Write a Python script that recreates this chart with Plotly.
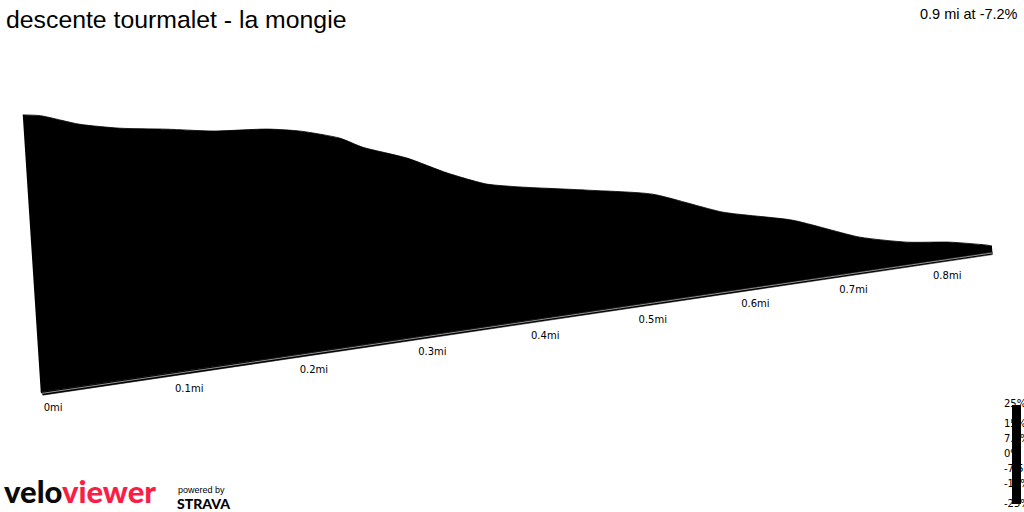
import numpy as np
import plotly.graph_objects as go

# ---------------- data ----------------
title_text = "descente tourmalet - la mongie"
summary_text = "0.9 mi at -7.2%"

distance_mi = [0.0, 0.013, 0.042, 0.072, 0.108, 0.145, 0.188, 0.215, 0.247, 0.266,
               0.303, 0.337, 0.371, 0.401, 0.462, 0.523, 0.590, 0.659, 0.727, 0.777,
               0.823, 0.864, 0.869]
elevation_m = [1903.4, 1902.5, 1897.9, 1895.0, 1892.9, 1890.4, 1889.1, 1887.0, 1882.7, 1878.1,
               1871.9, 1864.1, 1857.8, 1855.0, 1850.4, 1845.4, 1834.0, 1826.6, 1815.2, 1810.0,
               1807.3, 1803.5, 1802.8]

tick_mi = [0.0, 0.1, 0.2, 0.3, 0.4, 0.5, 0.6, 0.7, 0.8]
tick_labels = ["0mi", "0.1mi", "0.2mi", "0.3mi", "0.4mi", "0.5mi", "0.6mi", "0.7mi", "0.8mi"]

grade_ticks = [25, 15, 7.5, 0, -7.5, -15, -25]
grade_labels = ["25%", "15%", "7.5%", "0%", "-7.5%", "-15%", "-25%"]

# ---------------- view (perspective of the 3D ribbon) ----------------
W, H = 1024, 512
X0, Y0 = 40.75, 392.0      # screen position of the start on the ground
XA, PC = 1358.1, 0.2651    # projective distance mapping
GSLOPE = -0.147            # ground line slope on screen
PX_PER_M = 2.68
BASE_M = 1800.0
TILT = -0.065


def ground(d):
    d = np.asarray(d, float)
    x = (XA * d + X0) / (PC * d + 1)
    y = Y0 + GSLOPE * (x - X0)
    return x, y


def project(d, elev):
    d = np.asarray(d, float)
    x, y = ground(d)
    s = 1.0 / (PC * d + 1)
    h = PX_PER_M * (np.asarray(elev, float) - BASE_M) * s
    return x + TILT * h, y - h


d_end = distance_mi[-1]
gx, gy = ground([0.0, d_end])
tx, ty = project(distance_mi, elevation_m)

fig = go.Figure()

# slab front face (thin strip under the ground line)
fig.add_trace(go.Scatter(
    x=[gx[0], gx[1], gx[1], gx[0] + 2],
    y=[gy[0], gy[1], gy[1] + 2.5, gy[0] + 3.2],
    fill="toself", fillcolor="black", mode="lines",
    line=dict(color="black", width=0.5), hoverinfo="skip", showlegend=False))

# ground line (base for the profile fill)
fig.add_trace(go.Scatter(
    x=list(gx), y=list(gy), mode="lines",
    line=dict(color="black", width=0.5), hoverinfo="skip", showlegend=False))

# elevation profile
fig.add_trace(go.Scatter(
    x=list(tx), y=list(ty), mode="lines", fill="tonexty", fillcolor="black",
    line=dict(color="black", width=0.8, shape="spline", smoothing=0.6),
    hoverinfo="skip", showlegend=False))

# light edge line along slab
fig.add_trace(go.Scatter(
    x=[gx[0] + 1, gx[1]], y=[gy[0] + 1.4, gy[1] + 0.8], mode="lines",
    line=dict(color="#b8b8b8", width=0.8), hoverinfo="skip", showlegend=False))

# distance tick labels
kx, ky = ground(tick_mi)
fig.add_trace(go.Scatter(
    x=list(kx + 3), y=list(ky + 16.5 - 2.0 * np.asarray(tick_mi)), mode="text",
    text=tick_labels, textposition="middle right",
    textfont=dict(family="DejaVu Sans", size=10, color="black"),
    hoverinfo="skip", showlegend=False))

# gradient colour-scale labels (partly hidden by the bar, as in the reference)
fig.add_trace(go.Scatter(
    x=[1004] * len(grade_ticks), y=[454 - 2.0 * g for g in grade_ticks], mode="text",
    text=grade_labels, textposition="middle right",
    textfont=dict(family="DejaVu Sans", size=10, color="black"),
    hoverinfo="skip", showlegend=False))

shapes = [dict(type="rect", xref="x", yref="y", x0=1012, x1=1021, y0=405, y1=504,
               fillcolor="black", line=dict(width=0), layer="above")]

annotations = [
    dict(x=4, y=4, xref="x", yref="y", text=title_text, showarrow=False,
         xanchor="left", yanchor="top",
         font=dict(family="Liberation Sans, Arial", size=24.8, color="black")),
    dict(x=1020, y=4, xref="x", yref="y", text=summary_text, showarrow=False,
         xanchor="right", yanchor="top",
         font=dict(family="Liberation Sans, Arial", size=14.5, color="black")),
    dict(x=2, y=512, xref="x", yref="y",
         text="velo<span style='color:#fa1e46'>viewer</span>", showarrow=False,
         xanchor="left", yanchor="bottom",
         font=dict(family="Lato, Roboto", size=31, color="#0a0a0a", weight=900)),
    dict(x=177, y=484, xref="x", yref="y", text="powered by", showarrow=False,
         xanchor="left", yanchor="top", borderpad=0,
         font=dict(family="Liberation Sans, Arial", size=9, color="black")),
    dict(x=176, y=494, xref="x", yref="y", text="STRAVA", showarrow=False,
         xanchor="left", yanchor="top", borderpad=0,
         font=dict(family="Lato, Roboto", size=14, color="black", weight=900)),
]

fig.update_layout(
    width=W, height=H, margin=dict(l=0, r=0, t=0, b=0),
    paper_bgcolor="white", plot_bgcolor="white",
    xaxis=dict(range=[0, W], visible=False, fixedrange=True),
    yaxis=dict(range=[H, 0], visible=False, fixedrange=True),
    shapes=shapes, annotations=annotations, showlegend=False,
)

fig.write_html("out.html", config={"displayModeBar": False},
               post_script="document.body.style.margin='0';")
